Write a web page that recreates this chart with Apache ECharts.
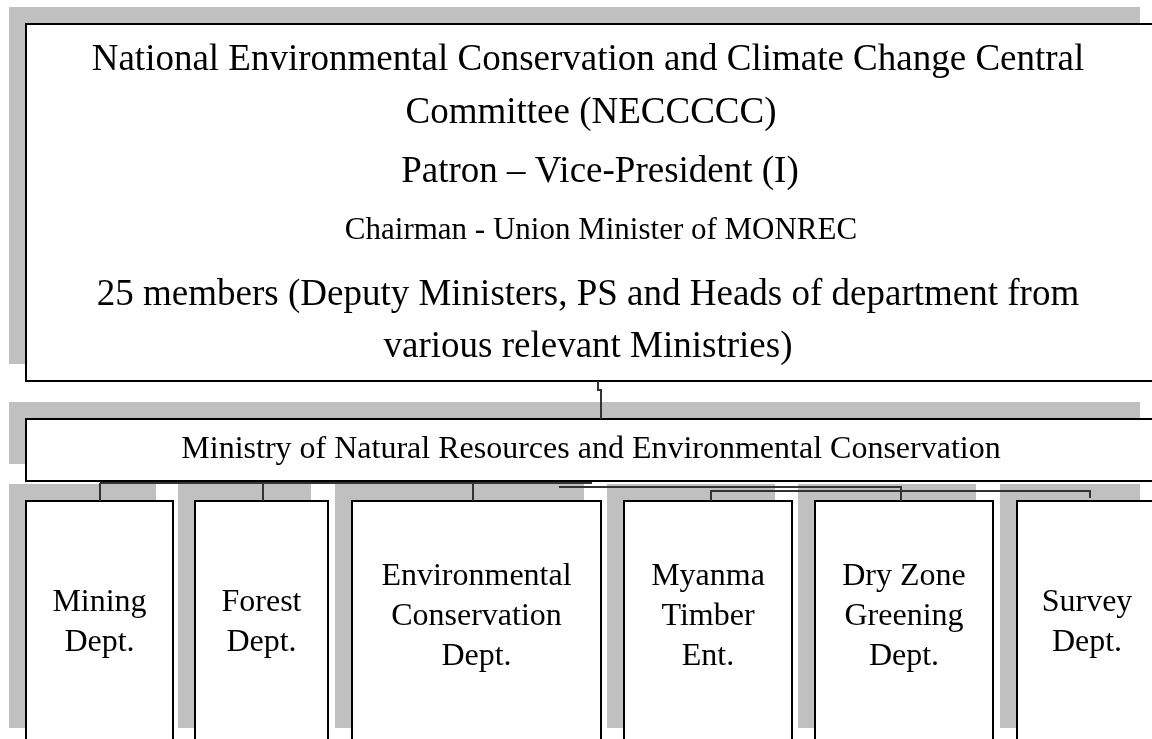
<!DOCTYPE html>
<html><head><meta charset="utf-8">
<script src="https://cdn.jsdelivr.net/npm/echarts@6/dist/echarts.min.js"></script>
<style>html,body{margin:0;padding:0;background:#fff}#c{width:1152px;height:739px}</style>
</head><body><div id="c"></div>
<script>
// ---- Data (org chart content) ----
const committeeLines = [
  'National Environmental Conservation and Climate Change Central',
  'Committee (NECCCCC)',
  'Patron \u2013 Vice-President (I)',
  'Chairman - Union Minister of MONREC',
  '25 members (Deputy Ministers, PS and Heads of department from',
  'various relevant Ministries)'
];
const ministryName = 'Ministry of Natural Resources and Environmental Conservation';
const departments = [
  'Mining\nDept.',
  'Forest\nDept.',
  'Environmental\nConservation\nDept.',
  'Myanma\nTimber\nEnt.',
  'Dry Zone\nGreening\nDept.',
  'Survey\nDept.'
];

// ---- Layout (diagram units on hidden axes) ----
const SHADOW = 17;
const FONT = '"Liberation Serif", "Times New Roman", serif';
const committeeBox = {x0: 26, y0: 24, x1: 1157, y1: 381};
const committeeLineX = [588, 591, 600, 601, 588, 588];
const committeeLineY = [60, 113, 172, 231, 295, 347];
const committeeLineSize = [37, 37, 37, 31, 37, 37];
const ministryBox = {x0: 26, y0: 419, x1: 1157, y1: 481};
const ministryText = {x: 591, y: 450, size: 32};
const deptX0 = [26, 195, 352, 624, 815, 1017];
const deptX1 = [173, 328, 601, 792, 993, 1157];
const deptY0 = 501, deptY1 = 745;
const deptTextY = [623, 623, 617, 617, 617, 623];
const deptTextSize = 32, deptLineH = 40;
const connectors = [
  [[598, 381], [598, 390], [601, 390], [601, 419]],
  [[100, 483], [592, 483]],
  [[100, 483], [100, 501]],
  [[263, 483], [263, 501]],
  [[473, 483], [473, 501]],
  [[559, 487], [901, 487], [901, 501]],
  [[711, 501], [711, 491], [1090, 491], [1090, 498]]
];

// ---- Build nodes ----
const nodes = [];
nodes.push(Object.assign({}, committeeBox, {
  texts: committeeLines.map((t, i) => ({text: t, x: committeeLineX[i], y: committeeLineY[i], size: committeeLineSize[i], lh: committeeLineSize[i] * 1.2}))
}));
nodes.push(Object.assign({}, ministryBox, {
  texts: [{text: ministryName, x: ministryText.x, y: ministryText.y, size: ministryText.size, lh: 36}]
}));
departments.forEach((d, i) => {
  nodes.push({x0: deptX0[i], y0: deptY0, x1: deptX1[i], y1: deptY1,
    texts: [{text: d, x: (deptX0[i] + deptX1[i]) / 2, y: deptTextY[i], size: deptTextSize, lh: deptLineH}]});
});

function boxRender(params, api) {
  const n = nodes[params.dataIndex];
  const p0 = api.coord([n.x0, n.y0]);
  const p1 = api.coord([n.x1, n.y1]);
  const s0 = api.coord([n.x0 - SHADOW, n.y0 - SHADOW]);
  const w = p1[0] - p0[0], h = p1[1] - p0[1];
  const children = [
    {type: 'rect', shape: {x: s0[0], y: s0[1], width: w, height: h}, style: {fill: '#c0c0c0'}},
    {type: 'rect', shape: {x: p0[0], y: p0[1], width: w, height: h}, style: {fill: '#ffffff', stroke: '#000000', lineWidth: 2}}
  ];
  n.texts.forEach(t => {
    const c = api.coord([t.x, t.y]);
    children.push({type: 'text', style: {text: t.text, x: c[0], y: c[1], fill: '#000', fontSize: t.size,
      fontFamily: FONT, align: 'center', verticalAlign: 'middle', lineHeight: t.lh}});
  });
  return {type: 'group', children: children};
}

function connRender(params, api) {
  const pts = connectors[params.dataIndex].map(p => api.coord(p));
  return {type: 'polyline', shape: {points: pts}, style: {fill: null, stroke: '#333333', lineWidth: 2}};
}

const chart = echarts.init(document.getElementById('c'), null, {renderer: 'canvas'});
chart.setOption({
  animation: false,
  backgroundColor: '#ffffff',
  grid: {left: 0, right: 0, top: 0, bottom: 0},
  xAxis: {type: 'value', min: 0, max: 1152, show: false},
  yAxis: {type: 'value', min: 0, max: 739, inverse: true, show: false},
  series: [
    {type: 'custom', coordinateSystem: 'cartesian2d', clip: false, z: 2,
      data: nodes.map((n, i) => [i, 0]), encode: {x: 0, y: 1}, renderItem: boxRender},
    {type: 'custom', coordinateSystem: 'cartesian2d', clip: false, z: 3,
      data: connectors.map((c, i) => [i, 0]), encode: {x: 0, y: 1}, renderItem: connRender}
  ]
});
</script></body></html>
